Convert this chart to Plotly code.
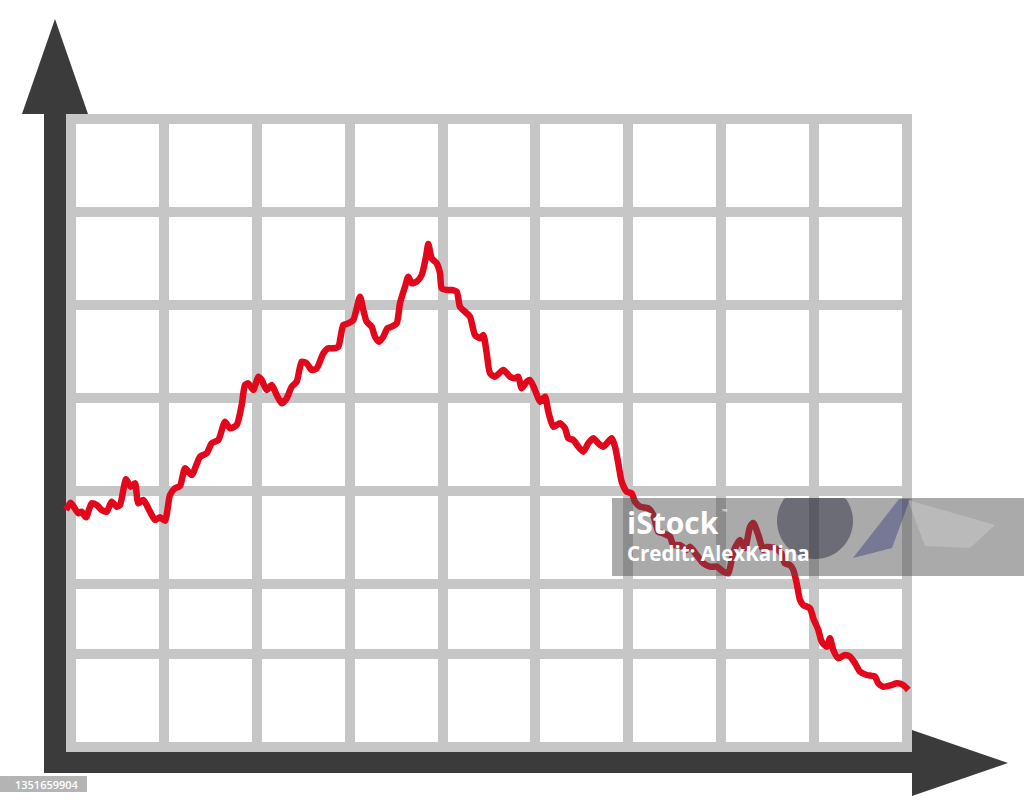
import math
import plotly.graph_objects as go

# ---- data (x: time position, y: value) ----
t_vals = [-5, -0.3, 7.3, 10.7, 15, 20.7, 25.7, 30.7, 35.7, 40.7, 45.7, 49, 55, 59.7, 64, 67.3,
          72.3, 77.3, 84, 89, 94, 99, 104, 109, 114, 120.7, 129, 135.7, 140.7, 147.3, 154, 159,
          165.7, 170.7, 174, 177.3, 182.3, 187.3, 190.7, 195.7, 200.7, 205.7, 210.7, 215.7, 220.7,
          225.7, 230.7, 235.7, 240.7, 245.7, 252.3, 257.3, 262.3, 267.3, 272.3, 277.3, 282.3, 289,
          292.3, 295.7, 300.7, 304, 308, 312.3, 316.3, 320.7, 325.7, 329, 334, 337.3, 340.7, 345.7,
          350.7, 355, 357.3, 360.7, 365.7, 369, 370.7, 375.7, 380.7, 385.7, 389, 394, 399, 404, 409,
          412.3, 415.7, 419, 424, 432.3, 439, 444, 447.3, 450.7, 455.7, 459, 464, 469, 474, 477.3,
          482.3, 489, 494, 497.3, 502.3, 507.3, 512.3, 517.3, 522.3, 527.3, 532.3, 540.7, 544,
          547.3, 550.7, 555.7, 560.7, 564, 569, 577.3, 582.3, 587.3, 592.3, 599, 602.3, 609, 615.7,
          619, 625.7, 632.3, 639, 645.7, 652.3, 657.3, 662.3, 669, 674, 679, 682.3, 687.3, 692.3,
          696, 704, 710, 714, 719, 722.3, 725.7, 729, 732.3, 739, 742.3, 747.3, 750.7, 755.7, 759,
          762.3, 767.3, 774, 779, 784, 789, 795.7, 804, 807.3, 812.3, 820.7, 825.7, 832.3, 837.3]
v_vals = [237, 244.3, 233.7, 235.3, 229.7, 243.7, 242, 237, 235.3, 245.3, 240.3, 242, 267.7, 260.3,
          263.7, 243.7, 247, 238.7, 227, 229.7, 226.3, 252, 258.7, 261, 278.7, 272, 290.3, 293.7,
          303.7, 307, 325.3, 318.7, 322, 342, 362, 363.7, 357, 370.3, 367, 357, 362, 352, 343.7,
          348.7, 360.3, 365.3, 385.3, 383.7, 377, 378.7, 393.7, 398.7, 398.7, 400.3, 422, 423.7,
          427, 450.3, 437, 425.3, 420.3, 410.3, 405.3, 410.3, 418.7, 420.3, 423.7, 443.7, 460.3,
          470.3, 463.7, 465.3, 472, 490.3, 503, 488.7, 483.7, 473.7, 458.7, 457, 457, 455.3, 440,
          435.3, 430.3, 412, 408.7, 412, 393.7, 373.7, 370.3, 377, 370.3, 368.7, 370.3, 358.7,
          365.3, 367, 357, 345.3, 350.3, 335.3, 320.3, 323.7, 318.7, 308.7, 307, 300.3, 295.3,
          303.7, 308.7, 303.7, 300.3, 308.7, 300.3, 283.7, 265.3, 255.3, 253.7, 245.3, 240.3,
          238.7, 232, 215.3, 213.7, 210.3, 202, 202, 197, 200.3, 192, 183.7, 180.3, 180.3, 175.3,
          173.7, 195, 207, 199, 220, 224, 212, 197, 200, 199, 194, 183.7, 182, 177, 163.7, 147,
          142, 138.7, 128.7, 117, 105.3, 100.3, 108.7, 97, 88.7, 92, 90.3, 83.7, 75.3, 72, 70.3,
          63.7, 60.3, 62, 63.7, 62, 57]

# grid positions (value units)
grid_x = [0, 93, 186, 279, 372, 464, 557, 650, 743, 836]
grid_y = [0, 93, 163, 256, 349, 442, 535, 628]

W, H = 1024, 805
X_RANGE = [-71, 953]
Y_RANGE = [-58, 747]

GRID = "#c6c6c6"
DARK = "#3b3b3b"
RED = "#e2071b"


def pxx(p):
    return p / W


def pyy(p):
    return 1 - p / H


shapes = []
gw = 10
# grid lines
for gx in grid_x:
    shapes.append(dict(type="line", xref="x", yref="y", x0=gx, x1=gx,
                       y0=grid_y[0] - gw / 2, y1=grid_y[-1] + gw / 2,
                       line=dict(color=GRID, width=gw), layer="below"))
for gy in grid_y:
    shapes.append(dict(type="line", xref="x", yref="y", y0=gy, y1=gy,
                       x0=grid_x[0] - gw / 2, x1=grid_x[-1] + gw / 2,
                       line=dict(color=GRID, width=gw), layer="below"))


def prect(x0, y0, x1, y1, color, layer="below", opacity=1.0):
    return dict(type="rect", xref="paper", yref="paper", x0=pxx(x0), x1=pxx(x1),
                y0=pyy(y1), y1=pyy(y0), fillcolor=color, line=dict(width=0),
                layer=layer, opacity=opacity)


def ppath(pts, color, layer="below", opacity=1.0):
    d = "M " + " L ".join(f"{pxx(x):.5f},{pyy(y):.5f}" for x, y in pts) + " Z"
    return dict(type="path", xref="paper", yref="paper", path=d, fillcolor=color,
                line=dict(width=0), layer=layer, opacity=opacity)


# dark axis shafts and arrowheads
shapes.append(prect(44, 113, 66, 773, DARK))
shapes.append(prect(44, 752, 913, 773, DARK))
shapes.append(ppath([(22, 114), (88, 114), (55, 19)], DARK))
shapes.append(ppath([(912, 730), (912, 796), (1008, 763)], DARK))

# watermark band
shapes.append(prect(612, 498, 1024, 576, "rgba(78,78,78,0.48)", layer="above"))
cx, cy, r = 815, 521, 38
pts = []
for i in range(73):
    a = 2 * math.pi * i / 72
    pts.append((cx + r * math.cos(a), max(cy + r * math.sin(a), 498)))
shapes.append(ppath(pts, "rgba(25,25,50,0.42)", layer="above"))
shapes.append(ppath([(853, 558), (899, 499), (910, 499), (892, 548)], "rgba(40,45,120,0.4)", layer="above"))
shapes.append(ppath([(908, 500), (995, 525), (970, 548), (925, 546)], "rgba(225,225,225,0.3)", layer="above"))
# id label box
shapes.append(prect(0, 776, 87, 792, "#b4b4b4", layer="above"))

fig = go.Figure()
fig.add_trace(go.Scatter(x=t_vals, y=v_vals, mode="lines",
                         line=dict(color=RED, width=6.5, shape="spline", smoothing=0.6),
                         hoverinfo="skip", showlegend=False))

annotations = [
    dict(text="iStock", x=pxx(625), y=pyy(522), xref="paper", yref="paper",
         xanchor="left", yanchor="middle", showarrow=False,
         font=dict(family="Open Sans", size=30, color="white", weight=700)),
    dict(text="™", x=pxx(720), y=pyy(511), xref="paper", yref="paper",
         xanchor="left", yanchor="middle", showarrow=False,
         font=dict(family="Open Sans", size=7, color="white")),
    dict(text="Credit: AlexKalina", x=pxx(625), y=pyy(553), xref="paper", yref="paper",
         xanchor="left", yanchor="middle", showarrow=False,
         font=dict(family="Open Sans", size=20.5, color="white", weight=700)),
    dict(text="1351659904", x=pxx(47), y=pyy(784), xref="paper", yref="paper",
         xanchor="center", yanchor="middle", showarrow=False,
         font=dict(family="Open Sans", size=11, color="white", weight=600)),
]

fig.update_layout(
    width=W, height=H, autosize=False,
    margin=dict(l=0, r=0, t=0, b=0, pad=0),
    paper_bgcolor="white", plot_bgcolor="white",
    xaxis=dict(range=X_RANGE, visible=False, fixedrange=True),
    yaxis=dict(range=Y_RANGE, visible=False, fixedrange=True),
    shapes=shapes, annotations=annotations, showlegend=False,
)

fig.write_html("out.html", config={"displayModeBar": False},
               post_script="document.body.style.margin='0';document.body.style.overflow='hidden';")
